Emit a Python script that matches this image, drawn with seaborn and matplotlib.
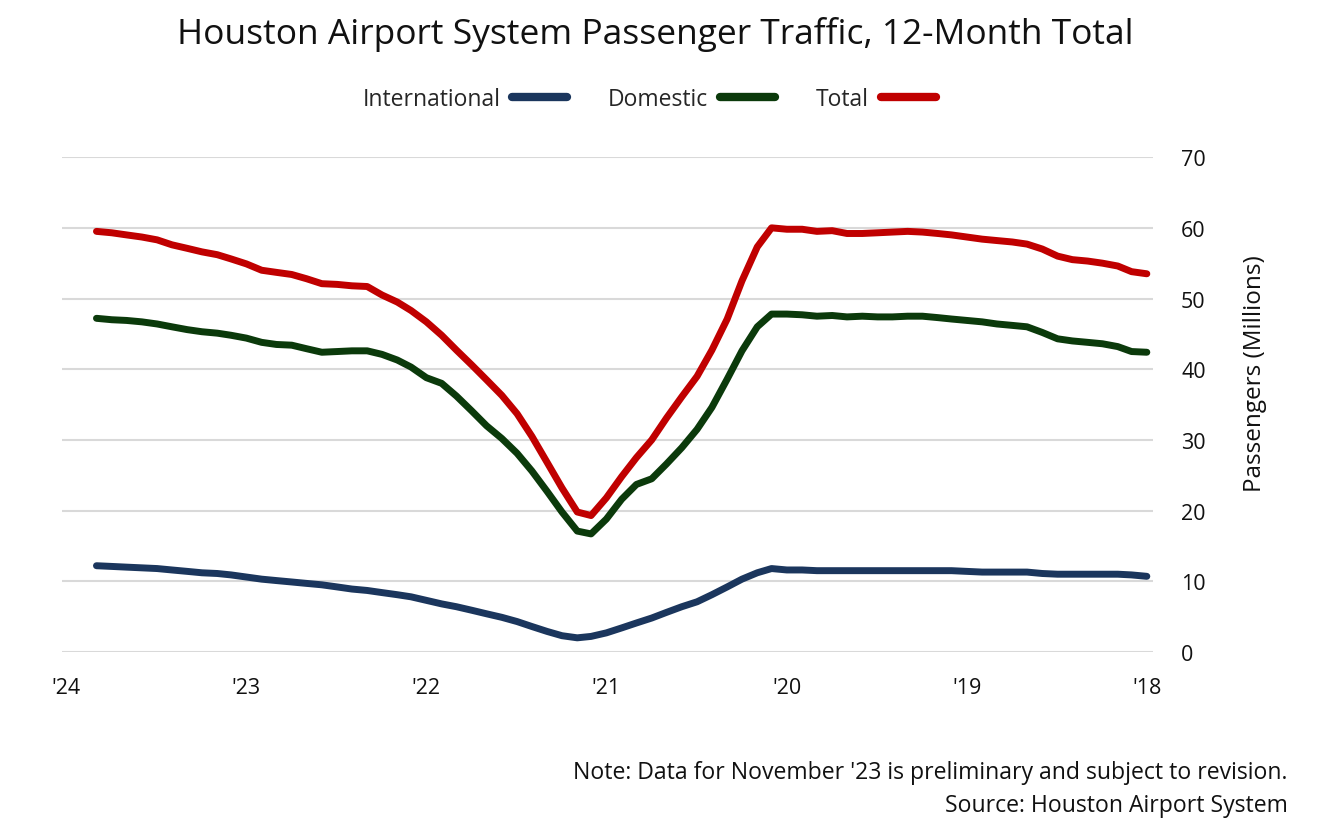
import matplotlib
matplotlib.use("Agg")
import matplotlib.pyplot as plt
import pandas as pd
import seaborn as sns

# 12-month rolling totals, Jan 2018 .. Nov 2023 (millions of passengers)
months = pd.date_range("2018-01-01", "2023-11-01", freq="MS")

total = [
    53.5, 53.8, 54.6, 55.0, 55.3, 55.5, 56.0, 57.0, 57.7, 58.0, 58.2, 58.4,
    58.7, 59.0, 59.2, 59.4, 59.5, 59.4, 59.3, 59.2, 59.2, 59.6, 59.5, 59.8,
    59.8, 60.0, 57.3, 52.5, 47.1, 42.7, 39.0, 36.1, 33.1, 30.0, 27.5, 24.8,
    21.8, 19.3, 19.8, 23.2, 26.8, 30.5, 33.7, 36.3, 38.5, 40.6, 42.7, 44.8,
    46.7, 48.3, 49.5, 50.5, 51.7, 51.8, 52.0, 52.1, 52.8, 53.4, 53.7, 54.0,
    54.9, 55.6, 56.2, 56.6, 57.1, 57.6, 58.3, 58.7, 59.0, 59.3, 59.5,
]
domestic = [
    42.4, 42.5, 43.2, 43.6, 43.8, 44.0, 44.3, 45.2, 46.0, 46.2, 46.4, 46.7,
    46.9, 47.1, 47.3, 47.5, 47.5, 47.4, 47.4, 47.5, 47.4, 47.6, 47.5, 47.7,
    47.8, 47.8, 46.0, 42.6, 38.6, 34.6, 31.5, 28.9, 26.6, 24.5, 23.7, 21.6,
    18.8, 16.7, 17.1, 19.8, 22.7, 25.6, 28.1, 30.2, 32.0, 34.1, 36.2, 38.0,
    38.8, 40.3, 41.3, 42.1, 42.6, 42.6, 42.5, 42.4, 42.9, 43.4, 43.5, 43.8,
    44.4, 44.8, 45.1, 45.3, 45.6, 46.0, 46.4, 46.7, 46.9, 47.0, 47.2,
]
international = [
    10.7, 10.9, 11.0, 11.0, 11.0, 11.0, 11.0, 11.1, 11.3, 11.3, 11.3, 11.3,
    11.4, 11.5, 11.5, 11.5, 11.5, 11.5, 11.5, 11.5, 11.5, 11.5, 11.5, 11.6,
    11.6, 11.8, 11.2, 10.3, 9.2, 8.1, 7.1, 6.4, 5.6, 4.8, 4.1, 3.4,
    2.7, 2.2, 2.0, 2.3, 2.9, 3.6, 4.3, 4.9, 5.4, 5.9, 6.4, 6.8,
    7.3, 7.8, 8.1, 8.4, 8.7, 8.9, 9.2, 9.5, 9.7, 9.9, 10.1, 10.3,
    10.6, 10.9, 11.1, 11.2, 11.4, 11.6, 11.8, 11.9, 12.0, 12.1, 12.2,
]

series = ["Total", "Domestic", "International"]
colors = {"Total": "#C00000", "Domestic": "#0B3A0B", "International": "#1B365D"}
year_ticks = pd.date_range("2018-01-01", "2024-01-01", freq="YS")
year_labels = ["'18", "'19", "'20", "'21", "'22", "'23", "'24"]

df = pd.DataFrame({"month": months, "Total": total,
                   "Domestic": domestic, "International": international})
long_df = df.melt(id_vars="month", var_name="series", value_name="passengers")

sns.set_theme(style="white")
plt.rcParams["font.family"] = ["Open Sans", "DejaVu Sans"]

fig = plt.figure(figsize=(13.18, 8.28), dpi=100)
ax = fig.add_axes([0.047, 0.2114, 0.828, 0.5976])

sns.lineplot(data=long_df, x="month", y="passengers", hue="series",
             hue_order=series, palette=colors, linewidth=5, ax=ax,
             legend=True)
for line in ax.get_lines():
    line.set_solid_capstyle("round")
    line.set_solid_joinstyle("round")

# mirrored layout: time runs right to left, value axis on the right
ax.set_xlim(pd.Timestamp("2024-01-10"), pd.Timestamp("2017-12-19"))
ax.set_ylim(0, 70)
ax.set_yticks(range(0, 71, 10))
ax.set_xticks(year_ticks)
ax.set_xticklabels(year_labels)
ax.yaxis.tick_right()
ax.yaxis.set_label_position("right")
ax.tick_params(axis="y", length=0, pad=20, labelsize=15.5, labelcolor="#111111")
ax.tick_params(axis="x", length=0, pad=18, labelsize=15.5, labelcolor="#111111")
ax.grid(axis="y", color="#D9D9D9", linewidth=1.5)
ax.grid(axis="x", visible=False)
for s in ax.spines.values():
    s.set_visible(False)
ax.set_xlabel("")
ax.set_ylabel("Passengers (Millions)", fontsize=17.5, color="#111111",
              rotation=90)
ax.yaxis.set_label_coords(1.082, 0.565)

handles, labels = ax.get_legend_handles_labels()
order = [labels.index(n) for n in ["International", "Domestic", "Total"]]
leg = ax.legend([handles[i] for i in order], [labels[i] for i in order],
                loc="center", bbox_to_anchor=(0.538, 1.118), ncol=3,
                frameon=False, fontsize=16.5, markerfirst=False,
                handlelength=2.4, columnspacing=1.8, handletextpad=0.5)
for h in leg.get_lines():
    h.set_linewidth(6)
    h.set_solid_capstyle("round")

fig.text(0.497, 0.958, "Houston Airport System Passenger Traffic, 12-Month Total",
         ha="center", va="center", fontsize=25.5, color="#111111")
fig.text(0.977, 0.066, "Note: Data for November '23 is preliminary and subject to revision.",
         ha="right", va="center", fontsize=16.6, color="#111111")
fig.text(0.977, 0.027, "Source: Houston Airport System",
         ha="right", va="center", fontsize=16.6, color="#111111")

fig.savefig("out.png", dpi=100)
